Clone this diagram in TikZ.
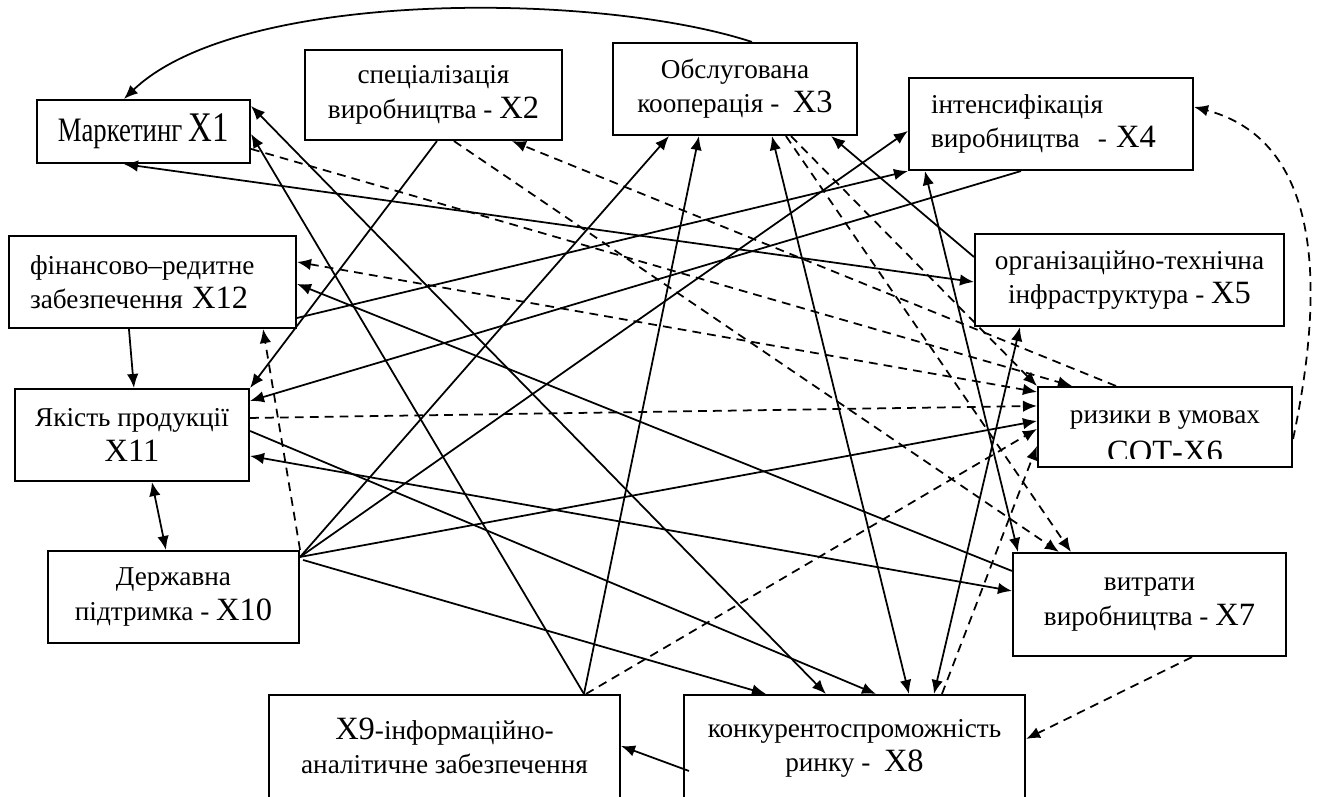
\documentclass[tikz,border=0pt]{standalone}
\usepackage{fontspec}
\setmainfont{Liberation Serif}
\newfontfamily\narrowserif[FakeStretch=0.78]{Liberation Serif}
\usetikzlibrary{arrows.meta,calc}
\newcommand{\pxl}{0.02cm}
\newcommand{\xl}[1]{{\fontsize{18.5}{20}\selectfont #1}}

\begin{document}
\begin{tikzpicture}[x=0.02cm,y=-0.02cm,>={Latex[length=0.28cm,width=0.23cm]},
    box/.style={draw,line width=1.2pt,inner sep=0pt,align=center,font=\fontsize{15.5}{19.5}\selectfont},
    wh/.style 2 args={minimum width=#1*\pxl,minimum height=#2*\pxl},
    link/.style={line width=1pt},
    dlink/.style={line width=1pt,dash pattern=on 5pt off 3.5pt}]
    \useasboundingbox (0,0) rectangle (1317,796);
    % --- factors
    \node[box,wh={213}{63},font=\narrowserif\fontsize{19.5}{20}\selectfont] (x1) at (143.5,131.5) {Маркетинг {\fontsize{24}{20}\selectfont X1}};
    \node[box,wh={257}{90}] (x2) at (433.5,95) {спеціалізація\\виробництва - \xl{X2}};
    \node[box,wh={244}{92}] (x3) at (735,89) {Обслугована\\кооперація -~ \xl{X3}};
    \node[box,wh={284}{92},align=left,text width=4.8cm,inner xsep=0.44cm] (x4) at (1051,124) {інтенсифікація\\виробництва~ - \xl{X4}};
    \node[box,wh={309}{92}] (x5) at (1129.5,280) {організаційно-технічна\\інфраструктура - \xl{X5}};
    \node[box,wh={254}{80}] (x6) at (1165,427) {};
    \node[anchor=base,font=\fontsize{15.5}{19.5}\selectfont] (x6a) at (1165,423) {ризики в умовах};
    \begin{scope}
      \clip (x6.north west) rectangle ($(x6.south east)+(0,-10)$);
      \node[anchor=base] (x6b) at (1165,462) {\xl{СОТ-X6}};
    \end{scope}
    \node[box,wh={273}{103}] (x7) at (1149.5,604.5) {витрати\\виробництва - \xl{X7}};
    \node[box,wh={341}{135}] (x8) at (854.5,762.5) {конкурентоспроможність\\ринку -~ \xl{X8}\\\mbox{}};
    \node[box,wh={351}{135}] (x9) at (444.5,762.5) {\xl{X9}-інформаційно-\\аналітичне забезпечення\\\mbox{}};
    \node[box,wh={251}{92}] (x10) at (173.5,597) {Державна\\підтримка - \xl{X10}};
    \node[box,wh={234}{92}] (x11) at (132,435) {Якість продукції\\\xl{X11}};
    \node[box,wh={287}{92},align=left,text width=4.9cm,inner xsep=0.42cm] (x12) at (152.5,282) {фінансово–редитне\\забезпечення \xl{X12}};
    % --- solid links
    \draw[link,->] ($(x3.north west)+(140,0)$) .. controls (600,-8) and (240,-12) .. ($(x1.north west)+(88,0)$);
    \draw[link,->] ($(x2.south west)+(133,0)$) -- (x11.north east);
    \draw[link,<->] ($(x1.north east)+(0,7)$) -- ($(x8.north west)+(143,0)$);
    \draw[link,->] ($(x9.north west)+(316,0)$) -- ($(x1.north east)+(0,35)$);
    \draw[link,->] ($(x9.north west)+(316,0)$) -- ($(x3.south west)+(87,0)$);
    \draw[link,->] ($(x10.north east)+(0,7)$) -- ($(x3.south west)+(57,0)$);
    \draw[link,->] ($(x10.north east)+(0,7)$) -- ($(x4.north west)+(0,54)$);
    \draw[link,->] ($(x12.north east)+(0,83)$) -- (x4.south west);
    \draw[link,->] ($(x10.north east)+(0,7)$) -- ($(x6.north west)+(0,35)$);
    \draw[link,->] ($(x10.north east)+(3,10)$) -- ($(x8.north west)+(83,0)$);
    \draw[link,->] ($(x7.north west)+(0,19)$) -- ($(x12.north east)+(0,49)$);
    \draw[link,->] ($(x4.south west)+(113,0)$) -- ($(x11.north east)+(0,13)$);
    \draw[link,->] ($(x11.north east)+(0,43)$) -- ($(x8.north west)+(193,0)$);
    \draw[link,<->] ($(x11.north east)+(0,68)$) -- ($(x7.north west)+(0,39)$);
    \draw[link,->] ($(x12.south west)+(121,0)$) -- ($(x11.north west)+(120,0)$);
    \draw[link,<->] ($(x11.south west)+(138,0)$) -- ($(x10.north west)+(119,0)$);
    \draw[link,->] ($(x8.north west)+(6,77)$) -- ($(x9.north east)+(0,52)$);
    \draw[link,<->] ($(x1.south west)+(88,0)$) -- ($(x5.north west)+(0,49)$);
    \draw[link,->] ($(x5.north west)+(0,24)$) -- ($(x3.south east)+(-27,0)$);
    \draw[link,<->] ($(x3.south west)+(160,0)$) -- ($(x8.north west)+(226,0)$);
    \draw[link,<->] ($(x5.south west)+(46,0)$) -- ($(x8.north west)+(251,0)$);
    \draw[link,<->] ($(x4.south west)+(17,0)$) -- ($(x7.north west)+(6,0)$);
    % --- dashed links
    \draw[dlink,->] ($(x6.north east)+(0,53)$) .. controls (1335,240) and (1300,135) .. ($(x4.north east)+(0,30)$);
    \draw[dlink,->] (x10.north east) -- ($(x12.south east)+(-34,0)$);
    \draw[dlink,->] ($(x7.south west)+(180,0)$) -- ($(x8.north east)+(0,45)$);
    \draw[dlink,->] ($(x8.north west)+(259,0)$) -- ($(x6.north west)+(0,60)$);
    \draw[dlink,->] ($(x9.north west)+(318,0)$) -- ($(x6.north west)+(0,43)$);
    \draw[dlink,->] ($(x11.north east)+(0,30)$) -- ($(x6.north west)+(0,20)$);
    \draw[dlink,<->] ($(x12.north east)+(0,27)$) -- ($(x6.north west)+(0,6)$);
    \draw[dlink,->] ($(x3.south west)+(179,0)$) -- (x6.north west);
    \draw[dlink,->] ($(x3.south west)+(174,0)$) -- ($(x7.north west)+(59,0)$);
    \draw[dlink,->] ($(x2.south west)+(150,0)$) -- ($(x7.north west)+(47,0)$);
    \draw[dlink,->] ($(x1.north east)+(0,50)$) -- ($(x6.north west)+(35,0)$);
    \draw[dlink,->] ($(x6.north west)+(79,0)$) -- ($(x2.south west)+(208,0)$);
\end{tikzpicture}
\end{document}
